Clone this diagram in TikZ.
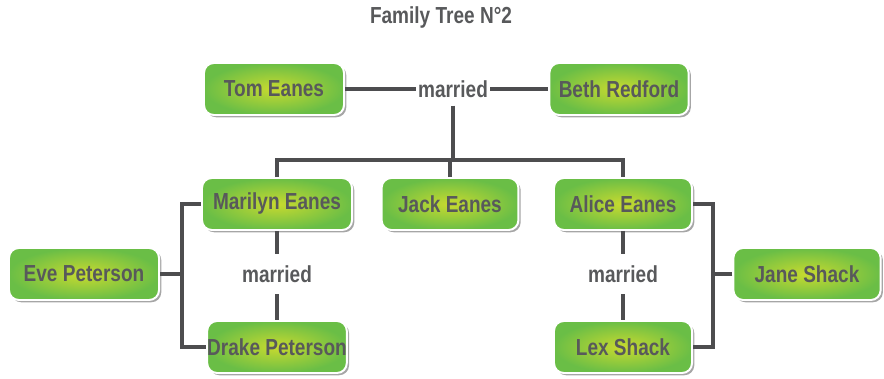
\documentclass[tikz,border=0pt]{standalone}
\usepackage{fontspec}
\setmainfont{Liberation Sans}[FakeStretch=0.82]
\usepackage{tikz}
\usetikzlibrary{shadows}
\definecolor{leaf_green}{RGB}{106,190,70}
\definecolor{leaf_light}{RGB}{200,218,47}
\definecolor{ink_gray}{RGB}{88,89,91}
\definecolor{line_gray}{RGB}{77,77,79}

\begin{document}
\begin{tikzpicture}[x=0.025cm,y=-0.025cm,
    person/.style={rectangle,rounded corners=7pt,draw=white,line width=1.4pt,
        inner color=leaf_light,outer color=leaf_green,
        drop shadow={shadow xshift=1.6pt,shadow yshift=-1.6pt,fill=black,opacity=0.35},
        minimum height=1.3cm,text=ink_gray,
        font=\bfseries\fontsize{16.5pt}{19pt}\selectfont},
    wed/.style={text=ink_gray,inner sep=1.5pt,
        font=\bfseries\fontsize{16.5pt}{19pt}\selectfont},
    link/.style={draw=line_gray,line width=2.5pt}]

                    \useasboundingbox (0,0) rectangle (884,379);

                    \node[wed] (title) at (441,18) {Family Tree N\textdegree2};

                    \node[person,minimum width=3.5cm] (tom) at (274,89) {Tom Eanes};
                    \node[person,minimum width=3.48cm] (beth) at (619,89) {Beth Redford};
                    \node[person,minimum width=3.75cm] (marilyn) at (277,204) {Marilyn Eanes};
                    \node[person,minimum width=3.42cm] (jack) at (450,204) {Jack Eanes};
                    \node[person,minimum width=3.45cm] (alice) at (623,204) {Alice Eanes};
                    \node[person,minimum width=3.75cm] (eve) at (84,274) {Eve Peterson};
                    \node[person,minimum width=3.48cm,inner xsep=0pt] (drake) at (277,347) {Drake Peterson};
                    \node[person,minimum width=3.68cm] (jane) at (807,274) {Jane Shack};
                    \node[person,minimum width=3.45cm] (lex) at (623,347) {Lex Shack};

                    \node[wed] (wed1) at (453,89) {married};
                    \node[wed,inner ysep=8pt] (wed2) at (277,274) {married};
                    \node[wed,inner ysep=8pt] (wed3) at (623,274) {married};

                    \coordinate (bar) at (450,160);
                    \coordinate (evebar) at (182,274);
                    \coordinate (janebar) at (713,274);

                    \draw[link] (tom.east) -- (wed1.west);
                    \draw[link] (wed1.east) -- (beth.west);
                    \draw[link] ([yshift=-4pt]wed1.south) -- (wed1.south |- bar);
                    \draw[link] (marilyn.north) -- (marilyn.north |- bar) -- (alice.north |- bar) -- (alice.north);
                    \draw[link] (jack.north) -- (jack.north |- bar);

                    \draw[link] (marilyn.south) -- (wed2.north);
                    \draw[link] (wed2.south) -- (drake.north);
                    \draw[link] (alice.south) -- (wed3.north);
                    \draw[link] (wed3.south) -- (lex.north);

                    \draw[link] (eve.east) -- (evebar);
                    \draw[link] (marilyn.west) -| (evebar) |- (drake.west);
                    \draw[link] (jane.west) -- (janebar);
                    \draw[link] (alice.east) -| (janebar) |- (lex.east);
                \end{tikzpicture}
\end{document}
